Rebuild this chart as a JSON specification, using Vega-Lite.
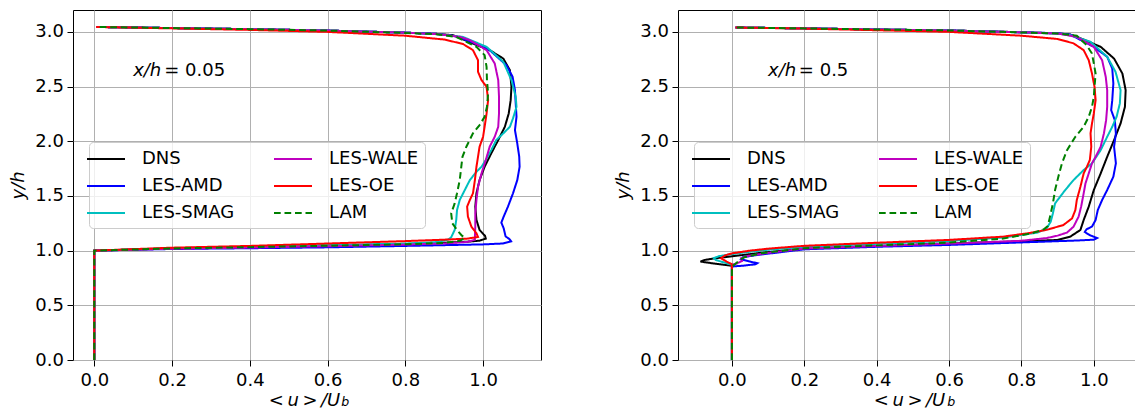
{
"$schema":"https://vega.github.io/schema/vega-lite/v6.json",
"padding":{"left":9,"top":9,"right":0,"bottom":0},
"spacing":72,
"config":{
 "font":"DejaVu Sans",
 "view":{"stroke":"black","strokeWidth":1},
 "axis":{"domain":false,"labelFont":"DejaVu Sans","labelFontSize":18,"labelColor":"black","titleFont":"DejaVu Sans","titleFontSize":18,"titleFontWeight":"normal","titleFontStyle":"italic","titleColor":"black","gridColor":"#b0b0b0","gridWidth":1,"gridOpacity":1,"tickColor":"black","tickSize":6,"tickWidth":1},
 "axisX":{"labelPadding":5,"titlePadding":2},
 "axisY":{"labelPadding":3.5,"titlePadding":7},
 "legend":{"orient":"none","legendX":16,"legendY":132,"columns":2,"title":null,"symbolType":"M-1.9,0H1.9","symbolSize":400,"symbolStrokeWidth":2,"labelFont":"DejaVu Sans","labelFontSize":18,"labelColor":"black","labelOffset":25,"rowPadding":7,"columnPadding":35,"padding":6,"fillColor":"rgba(255,255,255,0.8)","strokeColor":"#cccccc","cornerRadius":4}
},
"datasets":{
"p1":[
{"s":"DNS","u":0,"y":0},{"s":"DNS","u":0,"y":1.0},{"s":"DNS","u":0.2,"y":1.02},{"s":"DNS","u":0.4,"y":1.03},{"s":"DNS","u":0.6,"y":1.045},{"s":"DNS","u":0.8,"y":1.06},{"s":"DNS","u":0.9,"y":1.072},{"s":"DNS","u":0.96,"y":1.082},{"s":"DNS","u":0.991,"y":1.091},{"s":"DNS","u":1.007,"y":1.11},{"s":"DNS","u":1.005,"y":1.135},{"s":"DNS","u":0.991,"y":1.189},{"s":"DNS","u":0.983,"y":1.28},{"s":"DNS","u":0.98,"y":1.402},{"s":"DNS","u":0.983,"y":1.524},{"s":"DNS","u":0.991,"y":1.645},{"s":"DNS","u":1.004,"y":1.767},{"s":"DNS","u":1.021,"y":1.889},{"s":"DNS","u":1.039,"y":2.011},{"s":"DNS","u":1.056,"y":2.132},{"s":"DNS","u":1.066,"y":2.254},{"s":"DNS","u":1.071,"y":2.376},{"s":"DNS","u":1.073,"y":2.498},{"s":"DNS","u":1.069,"y":2.65},{"s":"DNS","u":1.052,"y":2.756},{"s":"DNS","u":1.017,"y":2.833},{"s":"DNS","u":0.974,"y":2.893},{"s":"DNS","u":0.923,"y":2.97},{"s":"DNS","u":0.88,"y":2.982},{"s":"DNS","u":0.8,"y":2.993},{"s":"DNS","u":0.6,"y":3.012},{"s":"DNS","u":0.4,"y":3.025},{"s":"DNS","u":0.2,"y":3.035},{"s":"DNS","u":0.005,"y":3.045},
{"s":"LES-AMD","u":0,"y":0},{"s":"LES-AMD","u":0,"y":1.0},{"s":"LES-AMD","u":0.2,"y":1.015},{"s":"LES-AMD","u":0.4,"y":1.022},{"s":"LES-AMD","u":0.6,"y":1.03},{"s":"LES-AMD","u":0.8,"y":1.043},{"s":"LES-AMD","u":0.9,"y":1.05},{"s":"LES-AMD","u":1.0,"y":1.057},{"s":"LES-AMD","u":1.05,"y":1.065},{"s":"LES-AMD","u":1.072,"y":1.085},{"s":"LES-AMD","u":1.068,"y":1.105},{"s":"LES-AMD","u":1.058,"y":1.13},{"s":"LES-AMD","u":1.055,"y":1.174},{"s":"LES-AMD","u":1.053,"y":1.204},{"s":"LES-AMD","u":1.047,"y":1.256},{"s":"LES-AMD","u":1.053,"y":1.311},{"s":"LES-AMD","u":1.064,"y":1.402},{"s":"LES-AMD","u":1.077,"y":1.524},{"s":"LES-AMD","u":1.088,"y":1.645},{"s":"LES-AMD","u":1.094,"y":1.767},{"s":"LES-AMD","u":1.093,"y":1.858},{"s":"LES-AMD","u":1.088,"y":1.98},{"s":"LES-AMD","u":1.082,"y":2.102},{"s":"LES-AMD","u":1.086,"y":2.224},{"s":"LES-AMD","u":1.084,"y":2.346},{"s":"LES-AMD","u":1.082,"y":2.467},{"s":"LES-AMD","u":1.076,"y":2.589},{"s":"LES-AMD","u":1.06,"y":2.696},{"s":"LES-AMD","u":1.017,"y":2.833},{"s":"LES-AMD","u":0.975,"y":2.9},{"s":"LES-AMD","u":0.93,"y":2.96},{"s":"LES-AMD","u":0.88,"y":2.982},{"s":"LES-AMD","u":0.8,"y":2.993},{"s":"LES-AMD","u":0.6,"y":3.012},{"s":"LES-AMD","u":0.4,"y":3.025},{"s":"LES-AMD","u":0.2,"y":3.035},{"s":"LES-AMD","u":0.005,"y":3.045},
{"s":"LES-SMAG","u":0,"y":0},{"s":"LES-SMAG","u":0,"y":1.0},{"s":"LES-SMAG","u":0.2,"y":1.022},{"s":"LES-SMAG","u":0.4,"y":1.035},{"s":"LES-SMAG","u":0.6,"y":1.05},{"s":"LES-SMAG","u":0.8,"y":1.065},{"s":"LES-SMAG","u":0.88,"y":1.078},{"s":"LES-SMAG","u":0.91,"y":1.1},{"s":"LES-SMAG","u":0.918,"y":1.122},{"s":"LES-SMAG","u":0.927,"y":1.189},{"s":"LES-SMAG","u":0.931,"y":1.28},{"s":"LES-SMAG","u":0.933,"y":1.371},{"s":"LES-SMAG","u":0.94,"y":1.463},{"s":"LES-SMAG","u":0.953,"y":1.554},{"s":"LES-SMAG","u":0.966,"y":1.645},{"s":"LES-SMAG","u":0.983,"y":1.721},{"s":"LES-SMAG","u":0.996,"y":1.767},{"s":"LES-SMAG","u":1.007,"y":1.828},{"s":"LES-SMAG","u":1.021,"y":1.919},{"s":"LES-SMAG","u":1.034,"y":2.011},{"s":"LES-SMAG","u":1.052,"y":2.072},{"s":"LES-SMAG","u":1.069,"y":2.132},{"s":"LES-SMAG","u":1.077,"y":2.209},{"s":"LES-SMAG","u":1.086,"y":2.315},{"s":"LES-SMAG","u":1.084,"y":2.406},{"s":"LES-SMAG","u":1.073,"y":2.559},{"s":"LES-SMAG","u":1.052,"y":2.726},{"s":"LES-SMAG","u":1.009,"y":2.863},{"s":"LES-SMAG","u":0.948,"y":2.954},{"s":"LES-SMAG","u":0.88,"y":2.98},{"s":"LES-SMAG","u":0.8,"y":2.993},{"s":"LES-SMAG","u":0.6,"y":3.012},{"s":"LES-SMAG","u":0.4,"y":3.025},{"s":"LES-SMAG","u":0.2,"y":3.035},{"s":"LES-SMAG","u":0.005,"y":3.045},
{"s":"LES-WALE","u":0,"y":0},{"s":"LES-WALE","u":0,"y":1.0},{"s":"LES-WALE","u":0.2,"y":1.018},{"s":"LES-WALE","u":0.4,"y":1.028},{"s":"LES-WALE","u":0.6,"y":1.04},{"s":"LES-WALE","u":0.8,"y":1.055},{"s":"LES-WALE","u":0.9,"y":1.065},{"s":"LES-WALE","u":0.96,"y":1.08},{"s":"LES-WALE","u":0.979,"y":1.1},{"s":"LES-WALE","u":0.979,"y":1.122},{"s":"LES-WALE","u":0.98,"y":1.219},{"s":"LES-WALE","u":0.98,"y":1.341},{"s":"LES-WALE","u":0.983,"y":1.463},{"s":"LES-WALE","u":0.987,"y":1.584},{"s":"LES-WALE","u":0.996,"y":1.706},{"s":"LES-WALE","u":1.007,"y":1.828},{"s":"LES-WALE","u":1.017,"y":1.95},{"s":"LES-WALE","u":1.03,"y":2.041},{"s":"LES-WALE","u":1.039,"y":2.132},{"s":"LES-WALE","u":1.041,"y":2.254},{"s":"LES-WALE","u":1.041,"y":2.406},{"s":"LES-WALE","u":1.039,"y":2.559},{"s":"LES-WALE","u":1.03,"y":2.711},{"s":"LES-WALE","u":1.009,"y":2.833},{"s":"LES-WALE","u":0.966,"y":2.924},{"s":"LES-WALE","u":0.94,"y":2.955},{"s":"LES-WALE","u":0.88,"y":2.98},{"s":"LES-WALE","u":0.8,"y":2.993},{"s":"LES-WALE","u":0.6,"y":3.012},{"s":"LES-WALE","u":0.4,"y":3.025},{"s":"LES-WALE","u":0.2,"y":3.035},{"s":"LES-WALE","u":0.005,"y":3.045},
{"s":"LES-OE","u":0,"y":0},{"s":"LES-OE","u":0,"y":1.0},{"s":"LES-OE","u":0.2,"y":1.027},{"s":"LES-OE","u":0.4,"y":1.043},{"s":"LES-OE","u":0.6,"y":1.065},{"s":"LES-OE","u":0.8,"y":1.087},{"s":"LES-OE","u":0.9,"y":1.1},{"s":"LES-OE","u":0.96,"y":1.11},{"s":"LES-OE","u":0.987,"y":1.125},{"s":"LES-OE","u":0.983,"y":1.158},{"s":"LES-OE","u":0.97,"y":1.219},{"s":"LES-OE","u":0.961,"y":1.311},{"s":"LES-OE","u":0.959,"y":1.402},{"s":"LES-OE","u":0.966,"y":1.463},{"s":"LES-OE","u":0.974,"y":1.524},{"s":"LES-OE","u":0.979,"y":1.645},{"s":"LES-OE","u":0.983,"y":1.767},{"s":"LES-OE","u":0.987,"y":1.858},{"s":"LES-OE","u":0.991,"y":1.95},{"s":"LES-OE","u":1.0,"y":2.041},{"s":"LES-OE","u":1.004,"y":2.132},{"s":"LES-OE","u":1.009,"y":2.254},{"s":"LES-OE","u":1.013,"y":2.376},{"s":"LES-OE","u":1.009,"y":2.498},{"s":"LES-OE","u":0.996,"y":2.559},{"s":"LES-OE","u":0.987,"y":2.635},{"s":"LES-OE","u":0.987,"y":2.741},{"s":"LES-OE","u":0.974,"y":2.833},{"s":"LES-OE","u":0.948,"y":2.89},{"s":"LES-OE","u":0.9,"y":2.93},{"s":"LES-OE","u":0.8,"y":2.965},{"s":"LES-OE","u":0.6,"y":3.0},{"s":"LES-OE","u":0.4,"y":3.018},{"s":"LES-OE","u":0.2,"y":3.032},{"s":"LES-OE","u":0.005,"y":3.045},
{"s":"LAM","u":0,"y":0},{"s":"LAM","u":0,"y":1.0},{"s":"LAM","u":0.2,"y":1.02},{"s":"LAM","u":0.4,"y":1.032},{"s":"LAM","u":0.6,"y":1.045},{"s":"LAM","u":0.8,"y":1.058},{"s":"LAM","u":0.9,"y":1.07},{"s":"LAM","u":0.94,"y":1.09},{"s":"LAM","u":0.953,"y":1.115},{"s":"LAM","u":0.944,"y":1.143},{"s":"LAM","u":0.933,"y":1.189},{"s":"LAM","u":0.921,"y":1.25},{"s":"LAM","u":0.918,"y":1.341},{"s":"LAM","u":0.927,"y":1.432},{"s":"LAM","u":0.933,"y":1.524},{"s":"LAM","u":0.94,"y":1.645},{"s":"LAM","u":0.944,"y":1.767},{"s":"LAM","u":0.947,"y":1.858},{"s":"LAM","u":0.957,"y":1.95},{"s":"LAM","u":0.974,"y":2.072},{"s":"LAM","u":0.991,"y":2.148},{"s":"LAM","u":1.004,"y":2.224},{"s":"LAM","u":1.01,"y":2.315},{"s":"LAM","u":1.013,"y":2.437},{"s":"LAM","u":1.01,"y":2.559},{"s":"LAM","u":1.009,"y":2.68},{"s":"LAM","u":1.004,"y":2.787},{"s":"LAM","u":0.983,"y":2.863},{"s":"LAM","u":0.931,"y":2.954},{"s":"LAM","u":0.88,"y":2.978},{"s":"LAM","u":0.8,"y":2.99},{"s":"LAM","u":0.6,"y":3.012},{"s":"LAM","u":0.4,"y":3.025},{"s":"LAM","u":0.2,"y":3.035},{"s":"LAM","u":0.005,"y":3.045}
],
"p2":[
{"s":"DNS","u":0,"y":0},{"s":"DNS","u":0,"y":0.862},{"s":"DNS","u":-0.045,"y":0.88},{"s":"DNS","u":-0.087,"y":0.9},{"s":"DNS","u":-0.075,"y":0.915},{"s":"DNS","u":-0.046,"y":0.93},{"s":"DNS","u":0,"y":0.948},{"s":"DNS","u":0.08,"y":0.98},{"s":"DNS","u":0.2,"y":1.018},{"s":"DNS","u":0.4,"y":1.042},{"s":"DNS","u":0.6,"y":1.066},{"s":"DNS","u":0.8,"y":1.085},{"s":"DNS","u":0.898,"y":1.097},{"s":"DNS","u":0.935,"y":1.128},{"s":"DNS","u":0.963,"y":1.189},{"s":"DNS","u":0.972,"y":1.28},{"s":"DNS","u":0.986,"y":1.402},{"s":"DNS","u":1.0,"y":1.554},{"s":"DNS","u":1.019,"y":1.706},{"s":"DNS","u":1.037,"y":1.858},{"s":"DNS","u":1.056,"y":2.011},{"s":"DNS","u":1.074,"y":2.163},{"s":"DNS","u":1.086,"y":2.315},{"s":"DNS","u":1.088,"y":2.467},{"s":"DNS","u":1.079,"y":2.619},{"s":"DNS","u":1.056,"y":2.756},{"s":"DNS","u":1.019,"y":2.863},{"s":"DNS","u":0.972,"y":2.93},{"s":"DNS","u":0.935,"y":2.976},{"s":"DNS","u":0.9,"y":2.986},{"s":"DNS","u":0.8,"y":2.997},{"s":"DNS","u":0.6,"y":3.013},{"s":"DNS","u":0.4,"y":3.022},{"s":"DNS","u":0.2,"y":3.032},{"s":"DNS","u":0.01,"y":3.04},
{"s":"LES-AMD","u":0,"y":0},{"s":"LES-AMD","u":0,"y":0.855},{"s":"LES-AMD","u":0.03,"y":0.862},{"s":"LES-AMD","u":0.065,"y":0.875},{"s":"LES-AMD","u":0.07,"y":0.885},{"s":"LES-AMD","u":0.05,"y":0.9},{"s":"LES-AMD","u":0.025,"y":0.92},{"s":"LES-AMD","u":0.03,"y":0.94},{"s":"LES-AMD","u":0.07,"y":0.96},{"s":"LES-AMD","u":0.2,"y":1.012},{"s":"LES-AMD","u":0.4,"y":1.035},{"s":"LES-AMD","u":0.6,"y":1.052},{"s":"LES-AMD","u":0.8,"y":1.075},{"s":"LES-AMD","u":0.95,"y":1.092},{"s":"LES-AMD","u":1.0,"y":1.1},{"s":"LES-AMD","u":1.009,"y":1.115},{"s":"LES-AMD","u":0.99,"y":1.14},{"s":"LES-AMD","u":0.975,"y":1.17},{"s":"LES-AMD","u":0.98,"y":1.195},{"s":"LES-AMD","u":0.995,"y":1.22},{"s":"LES-AMD","u":1.005,"y":1.28},{"s":"LES-AMD","u":1.011,"y":1.371},{"s":"LES-AMD","u":1.023,"y":1.463},{"s":"LES-AMD","u":1.037,"y":1.554},{"s":"LES-AMD","u":1.054,"y":1.676},{"s":"LES-AMD","u":1.061,"y":1.798},{"s":"LES-AMD","u":1.056,"y":1.95},{"s":"LES-AMD","u":1.061,"y":2.072},{"s":"LES-AMD","u":1.058,"y":2.193},{"s":"LES-AMD","u":1.048,"y":2.285},{"s":"LES-AMD","u":1.051,"y":2.376},{"s":"LES-AMD","u":1.054,"y":2.528},{"s":"LES-AMD","u":1.051,"y":2.665},{"s":"LES-AMD","u":1.037,"y":2.772},{"s":"LES-AMD","u":1.0,"y":2.863},{"s":"LES-AMD","u":0.935,"y":2.975},{"s":"LES-AMD","u":0.9,"y":2.988},{"s":"LES-AMD","u":0.8,"y":2.996},{"s":"LES-AMD","u":0.6,"y":3.013},{"s":"LES-AMD","u":0.4,"y":3.022},{"s":"LES-AMD","u":0.2,"y":3.032},{"s":"LES-AMD","u":0.01,"y":3.04},
{"s":"LES-SMAG","u":0,"y":0},{"s":"LES-SMAG","u":0,"y":0.87},{"s":"LES-SMAG","u":-0.02,"y":0.89},{"s":"LES-SMAG","u":-0.045,"y":0.915},{"s":"LES-SMAG","u":-0.05,"y":0.932},{"s":"LES-SMAG","u":-0.035,"y":0.95},{"s":"LES-SMAG","u":0,"y":0.968},{"s":"LES-SMAG","u":0.05,"y":0.99},{"s":"LES-SMAG","u":0.1,"y":1.008},{"s":"LES-SMAG","u":0.2,"y":1.034},{"s":"LES-SMAG","u":0.4,"y":1.062},{"s":"LES-SMAG","u":0.6,"y":1.089},{"s":"LES-SMAG","u":0.75,"y":1.12},{"s":"LES-SMAG","u":0.845,"y":1.165},{"s":"LES-SMAG","u":0.87,"y":1.204},{"s":"LES-SMAG","u":0.881,"y":1.265},{"s":"LES-SMAG","u":0.887,"y":1.341},{"s":"LES-SMAG","u":0.893,"y":1.432},{"s":"LES-SMAG","u":0.907,"y":1.493},{"s":"LES-SMAG","u":0.921,"y":1.554},{"s":"LES-SMAG","u":0.944,"y":1.645},{"s":"LES-SMAG","u":0.972,"y":1.737},{"s":"LES-SMAG","u":0.995,"y":1.798},{"s":"LES-SMAG","u":1.019,"y":1.919},{"s":"LES-SMAG","u":1.037,"y":2.041},{"s":"LES-SMAG","u":1.051,"y":2.132},{"s":"LES-SMAG","u":1.063,"y":2.224},{"s":"LES-SMAG","u":1.072,"y":2.346},{"s":"LES-SMAG","u":1.074,"y":2.467},{"s":"LES-SMAG","u":1.06,"y":2.635},{"s":"LES-SMAG","u":1.037,"y":2.772},{"s":"LES-SMAG","u":0.991,"y":2.909},{"s":"LES-SMAG","u":0.935,"y":2.97},{"s":"LES-SMAG","u":0.9,"y":2.984},{"s":"LES-SMAG","u":0.8,"y":2.995},{"s":"LES-SMAG","u":0.6,"y":3.013},{"s":"LES-SMAG","u":0.4,"y":3.022},{"s":"LES-SMAG","u":0.2,"y":3.032},{"s":"LES-SMAG","u":0.01,"y":3.04},
{"s":"LES-WALE","u":0,"y":0},{"s":"LES-WALE","u":0,"y":0.87},{"s":"LES-WALE","u":0.015,"y":0.885},{"s":"LES-WALE","u":0.028,"y":0.905},{"s":"LES-WALE","u":0.025,"y":0.93},{"s":"LES-WALE","u":0.045,"y":0.952},{"s":"LES-WALE","u":0.1,"y":0.98},{"s":"LES-WALE","u":0.2,"y":1.019},{"s":"LES-WALE","u":0.4,"y":1.042},{"s":"LES-WALE","u":0.6,"y":1.064},{"s":"LES-WALE","u":0.8,"y":1.09},{"s":"LES-WALE","u":0.87,"y":1.115},{"s":"LES-WALE","u":0.9,"y":1.137},{"s":"LES-WALE","u":0.926,"y":1.165},{"s":"LES-WALE","u":0.944,"y":1.219},{"s":"LES-WALE","u":0.958,"y":1.311},{"s":"LES-WALE","u":0.965,"y":1.402},{"s":"LES-WALE","u":0.972,"y":1.524},{"s":"LES-WALE","u":0.977,"y":1.615},{"s":"LES-WALE","u":0.986,"y":1.706},{"s":"LES-WALE","u":0.995,"y":1.798},{"s":"LES-WALE","u":1.005,"y":1.858},{"s":"LES-WALE","u":1.019,"y":1.95},{"s":"LES-WALE","u":1.028,"y":2.072},{"s":"LES-WALE","u":1.034,"y":2.193},{"s":"LES-WALE","u":1.037,"y":2.315},{"s":"LES-WALE","u":1.037,"y":2.467},{"s":"LES-WALE","u":1.033,"y":2.589},{"s":"LES-WALE","u":1.023,"y":2.741},{"s":"LES-WALE","u":1.0,"y":2.863},{"s":"LES-WALE","u":0.953,"y":2.954},{"s":"LES-WALE","u":0.9,"y":2.985},{"s":"LES-WALE","u":0.8,"y":2.996},{"s":"LES-WALE","u":0.6,"y":3.013},{"s":"LES-WALE","u":0.4,"y":3.022},{"s":"LES-WALE","u":0.2,"y":3.032},{"s":"LES-WALE","u":0.01,"y":3.04},
{"s":"LES-OE","u":0,"y":0},{"s":"LES-OE","u":0,"y":0.875},{"s":"LES-OE","u":-0.015,"y":0.9},{"s":"LES-OE","u":-0.03,"y":0.93},{"s":"LES-OE","u":-0.02,"y":0.955},{"s":"LES-OE","u":0,"y":0.975},{"s":"LES-OE","u":0.05,"y":1.0},{"s":"LES-OE","u":0.1,"y":1.018},{"s":"LES-OE","u":0.2,"y":1.044},{"s":"LES-OE","u":0.4,"y":1.072},{"s":"LES-OE","u":0.6,"y":1.098},{"s":"LES-OE","u":0.75,"y":1.128},{"s":"LES-OE","u":0.82,"y":1.16},{"s":"LES-OE","u":0.87,"y":1.19},{"s":"LES-OE","u":0.916,"y":1.234},{"s":"LES-OE","u":0.94,"y":1.295},{"s":"LES-OE","u":0.949,"y":1.371},{"s":"LES-OE","u":0.953,"y":1.463},{"s":"LES-OE","u":0.963,"y":1.584},{"s":"LES-OE","u":0.972,"y":1.706},{"s":"LES-OE","u":0.981,"y":1.767},{"s":"LES-OE","u":0.989,"y":1.828},{"s":"LES-OE","u":0.993,"y":1.95},{"s":"LES-OE","u":0.991,"y":2.072},{"s":"LES-OE","u":0.995,"y":2.163},{"s":"LES-OE","u":1.0,"y":2.254},{"s":"LES-OE","u":1.005,"y":2.376},{"s":"LES-OE","u":1.002,"y":2.498},{"s":"LES-OE","u":0.995,"y":2.619},{"s":"LES-OE","u":0.986,"y":2.741},{"s":"LES-OE","u":0.972,"y":2.833},{"s":"LES-OE","u":0.944,"y":2.895},{"s":"LES-OE","u":0.9,"y":2.935},{"s":"LES-OE","u":0.8,"y":2.965},{"s":"LES-OE","u":0.6,"y":3.0},{"s":"LES-OE","u":0.4,"y":3.015},{"s":"LES-OE","u":0.2,"y":3.03},{"s":"LES-OE","u":0.01,"y":3.04},
{"s":"LAM","u":0,"y":0},{"s":"LAM","u":0,"y":0.855},{"s":"LAM","u":0.01,"y":0.88},{"s":"LAM","u":0.02,"y":0.91},{"s":"LAM","u":0.035,"y":0.94},{"s":"LAM","u":0.08,"y":0.975},{"s":"LAM","u":0.2,"y":1.022},{"s":"LAM","u":0.4,"y":1.048},{"s":"LAM","u":0.6,"y":1.073},{"s":"LAM","u":0.75,"y":1.11},{"s":"LAM","u":0.83,"y":1.16},{"s":"LAM","u":0.862,"y":1.195},{"s":"LAM","u":0.873,"y":1.225},{"s":"LAM","u":0.879,"y":1.311},{"s":"LAM","u":0.887,"y":1.432},{"s":"LAM","u":0.893,"y":1.554},{"s":"LAM","u":0.902,"y":1.676},{"s":"LAM","u":0.912,"y":1.798},{"s":"LAM","u":0.926,"y":1.919},{"s":"LAM","u":0.949,"y":2.041},{"s":"LAM","u":0.972,"y":2.132},{"s":"LAM","u":0.986,"y":2.224},{"s":"LAM","u":0.995,"y":2.315},{"s":"LAM","u":1.0,"y":2.406},{"s":"LAM","u":1.002,"y":2.498},{"s":"LAM","u":1.005,"y":2.619},{"s":"LAM","u":0.995,"y":2.802},{"s":"LAM","u":0.98,"y":2.88},{"s":"LAM","u":0.953,"y":2.965},{"s":"LAM","u":0.9,"y":2.985},{"s":"LAM","u":0.8,"y":2.995},{"s":"LAM","u":0.6,"y":3.013},{"s":"LAM","u":0.4,"y":3.022},{"s":"LAM","u":0.2,"y":3.032},{"s":"LAM","u":0.01,"y":3.04}
]
},
"hconcat":[
{
 "width":468,"height":350,
 "encoding":{
  "x":{"field":"u","type":"quantitative","scale":{"domain":[-0.0547,1.149],"nice":false,"zero":false},"axis":{"values":[0,0.2,0.4,0.6,0.8,1.0],"format":".1f","title":"<\u2009u\u2009>\u2009/U","titleX":231,"titleAlign":"center"}},
  "y":{"field":"y","type":"quantitative","scale":{"domain":[0,3.2],"nice":false,"zero":false},"axis":{"values":[0,0.5,1,1.5,2,2.5,3],"format":".1f","title":"y/h"}}
 },
 "layer":[
  {"data":{"name":"p1"},"mark":{"type":"line","strokeWidth":2,"clip":true},
   "encoding":{
    "color":{"field":"s","type":"nominal","scale":{"domain":["DNS","LES-AMD","LES-SMAG","LES-WALE","LES-OE","LAM"],"range":["#000000","#0000ff","#00bfbf","#bf00bf","#ff0000","#008000"]}},
    "strokeDash":{"field":"s","type":"nominal","scale":{"domain":["DNS","LES-AMD","LES-SMAG","LES-WALE","LES-OE","LAM"],"range":[[1,0],[1,0],[1,0],[1,0],[1,0],[6.7,3.8]]}},
    "order":{"field":"y","type":"quantitative"}
   }},
  {"data":{"values":[{"u":0.1,"y":2.6,"t":"x/h"}]},"mark":{"type":"text","align":"left","baseline":"alphabetic","fontSize":18,"fontStyle":"italic","font":"DejaVu Sans","color":"black"},"encoding":{"text":{"field":"t"}}},
  {"data":{"values":[{"u":0.18,"y":2.6,"t":"= 0.05"}]},"mark":{"type":"text","align":"left","baseline":"alphabetic","fontSize":18,"font":"DejaVu Sans","color":"black"},"encoding":{"text":{"field":"t"}}},
  {"data":{"values":[{"u":0.635,"y":-0.42,"t":"b"}]},"mark":{"type":"text","align":"left","baseline":"alphabetic","fontSize":12.6,"fontStyle":"italic","font":"DejaVu Sans","color":"black"},"encoding":{"text":{"field":"t"}}}
 ]
},
{
 "width":458,"height":350,
 "encoding":{
  "x":{"field":"u","type":"quantitative","scale":{"domain":[-0.149,1.1166],"nice":false,"zero":false},"axis":{"values":[0,0.2,0.4,0.6,0.8,1.0],"format":".1f","title":"<\u2009u\u2009>\u2009/U","titleX":231,"titleAlign":"center"}},
  "y":{"field":"y","type":"quantitative","scale":{"domain":[0,3.2],"nice":false,"zero":false},"axis":{"values":[0,0.5,1,1.5,2,2.5,3],"format":".1f","title":"y/h"}}
 },
 "layer":[
  {"data":{"name":"p2"},"mark":{"type":"line","strokeWidth":2,"clip":true},
   "encoding":{
    "color":{"field":"s","type":"nominal","scale":{"domain":["DNS","LES-AMD","LES-SMAG","LES-WALE","LES-OE","LAM"],"range":["#000000","#0000ff","#00bfbf","#bf00bf","#ff0000","#008000"]}},
    "strokeDash":{"field":"s","type":"nominal","scale":{"domain":["DNS","LES-AMD","LES-SMAG","LES-WALE","LES-OE","LAM"],"range":[[1,0],[1,0],[1,0],[1,0],[1,0],[6.7,3.8]]}},
    "order":{"field":"y","type":"quantitative"}
   }},
  {"data":{"values":[{"u":0.1,"y":2.6,"t":"x/h"}]},"mark":{"type":"text","align":"left","baseline":"alphabetic","fontSize":18,"fontStyle":"italic","font":"DejaVu Sans","color":"black"},"encoding":{"text":{"field":"t"}}},
  {"data":{"values":[{"u":0.185,"y":2.6,"t":"= 0.5"}]},"mark":{"type":"text","align":"left","baseline":"alphabetic","fontSize":18,"font":"DejaVu Sans","color":"black"},"encoding":{"text":{"field":"t"}}},
  {"data":{"values":[{"u":0.595,"y":-0.42,"t":"b"}]},"mark":{"type":"text","align":"left","baseline":"alphabetic","fontSize":12.6,"fontStyle":"italic","font":"DejaVu Sans","color":"black"},"encoding":{"text":{"field":"t"}}}
 ]
}
],
"resolve":{"scale":{"color":"independent","strokeDash":"independent"},"legend":{"color":"independent","strokeDash":"independent"}}
}
